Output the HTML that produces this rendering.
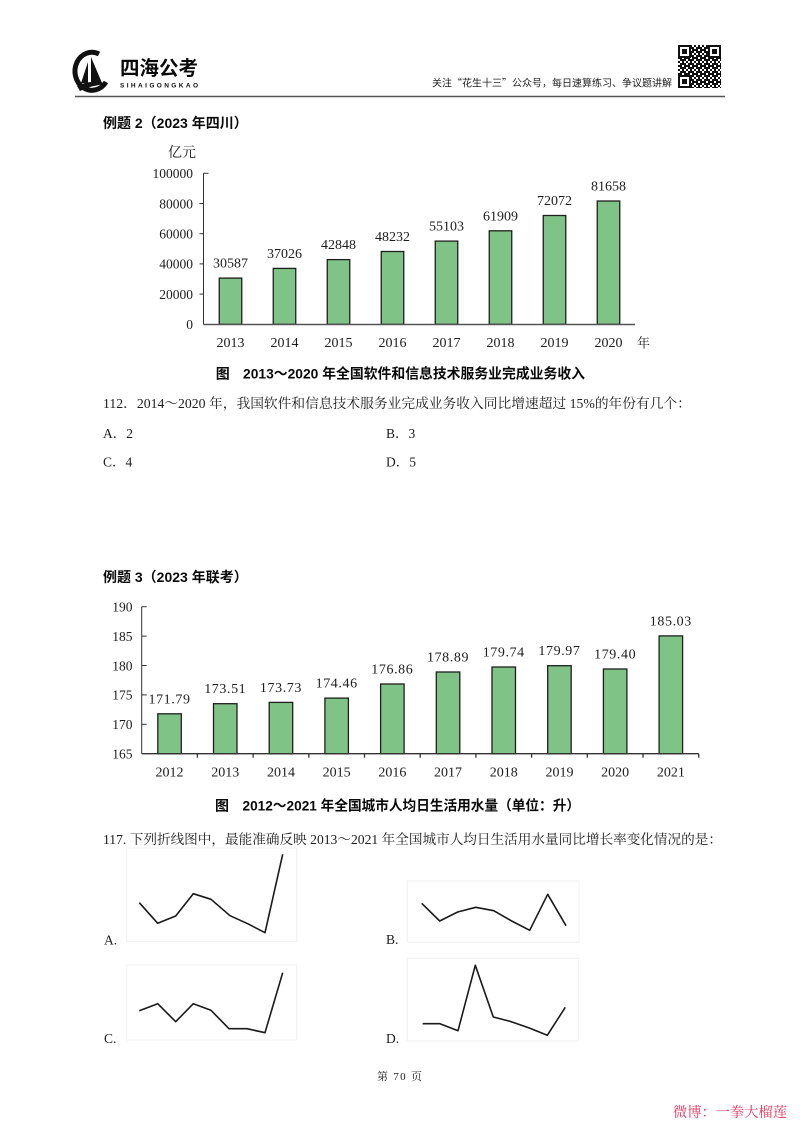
<!DOCTYPE html>
<html><head><meta charset="utf-8">
<style>
html,body{margin:0;padding:0;background:#fff;}
body{width:800px;height:1132px;overflow:hidden;position:relative;}
svg{position:absolute;left:0;top:0;}
.s{font-family:"Liberation Serif","Noto Serif CJK SC",serif;fill:#1c1c1c;}
.h{font-family:"Liberation Sans","Noto Sans CJK SC",sans-serif;font-weight:bold;fill:#0a0a0a;}
.bar{fill:#80c386;stroke:#1e1e1e;stroke-width:1.3;}
.ln{fill:none;stroke:#1a1a1a;stroke-width:1.6;stroke-linejoin:round;}
.box{fill:none;stroke:#f0f0f0;stroke-width:1;}
</style></head>
<body>
<svg width="800" height="1132" viewBox="0 0 800 1132" xmlns="http://www.w3.org/2000/svg">
<defs>
<pattern id="qr" x="678" y="45" width="8" height="8" patternUnits="userSpaceOnUse">
<rect x="0" y="0" width="2" height="2" fill="#111"/><rect x="4" y="0" width="2" height="4" fill="#111"/>
<rect x="2" y="2" width="2" height="2" fill="#111"/><rect x="6" y="2" width="2" height="2" fill="#111"/>
<rect x="0" y="4" width="4" height="2" fill="#111"/><rect x="4" y="6" width="2" height="2" fill="#111"/>
<rect x="6" y="4" width="2" height="4" fill="#111"/><rect x="2" y="6" width="2" height="2" fill="#111"/>
</pattern>
</defs>

<!-- Header logo -->
<g>
<path d="M99,54 A17,19 0 1 0 106,82" fill="none" stroke="#111" stroke-width="5"/>
<path d="M91,57 L91,83 L102,83 Z" fill="#111"/>
<path d="M88,62 L88,83 L81,83 Z" fill="#111"/>
<path d="M77,86 Q91,79 107,84 Q92,85 80,91 Z" fill="#111"/>
</g>
<text class="h" x="120" y="75" font-size="20" font-weight="900" textLength="78" lengthAdjust="spacingAndGlyphs">四海公考</text>
<text class="h" x="120" y="87.5" font-size="6.5" textLength="78" lengthAdjust="spacing">SIHAIGONGKAO</text>
<text x="432" y="86.6" font-size="10" font-family="Noto Sans CJK SC,sans-serif" fill="#222" textLength="240" lengthAdjust="spacingAndGlyphs">关注“花生十三”公众号，每日速算练习、争议题讲解</text>
<!-- QR -->
<rect x="678" y="45" width="43" height="43" fill="url(#qr)"/>
<g fill="#111">
<rect x="678" y="45" width="13" height="13"/><rect x="708" y="45" width="13" height="13"/><rect x="678" y="75" width="13" height="13"/>
</g>
<g fill="#fff">
<rect x="680" y="47" width="9" height="9"/><rect x="710" y="47" width="9" height="9"/><rect x="680" y="77" width="9" height="9"/>
</g>
<g fill="#111">
<rect x="682" y="49" width="5" height="5"/><rect x="712" y="49" width="5" height="5"/><rect x="682" y="79" width="5" height="5"/>
</g>
<line x1="75" y1="96.5" x2="725" y2="96.5" stroke="#555" stroke-width="1.6"/>

<!-- Example 2 -->
<text class="h" x="103" y="128" font-size="14">例题 2（2023 年四川）</text>
<text class="s" x="168" y="157" font-size="14">亿元</text>

<g class="s" font-size="13.5" text-anchor="end">
<text x="193" y="329.1">0</text>
<text x="193" y="298.9">20000</text>
<text x="193" y="268.7">40000</text>
<text x="193" y="238.5">60000</text>
<text x="193" y="208.3">80000</text>
<text x="193" y="178.1">100000</text>
</g>
<g stroke="#333" stroke-width="1">
<line x1="203.5" y1="173.3" x2="203.5" y2="324.5"/>
<line x1="203.5" y1="173.3" x2="208.5" y2="173.3"/>
<line x1="199.5" y1="203.5" x2="203.5" y2="203.5"/>
<line x1="199.5" y1="233.7" x2="203.5" y2="233.7"/>
<line x1="199.5" y1="263.9" x2="203.5" y2="263.9"/>
<line x1="199.5" y1="294.1" x2="203.5" y2="294.1"/>
</g>
<g>
<rect class="bar" x="219.25" y="278.1" width="22.5" height="46.2"/>
<rect class="bar" x="273.25" y="268.4" width="22.5" height="55.9"/>
<rect class="bar" x="327.25" y="259.6" width="22.5" height="64.7"/>
<rect class="bar" x="381.25" y="251.5" width="22.5" height="72.8"/>
<rect class="bar" x="435.25" y="241.1" width="22.5" height="83.2"/>
<rect class="bar" x="489.25" y="230.8" width="22.5" height="93.5"/>
<rect class="bar" x="543.25" y="215.5" width="22.5" height="108.8"/>
<rect class="bar" x="597.25" y="201.0" width="22.5" height="123.3"/>
</g>
<line x1="203.5" y1="324.5" x2="635" y2="324.5" stroke="#555" stroke-width="1.5"/>
<g class="s" font-size="14" text-anchor="middle">
<text x="230.5" y="267.6">30587</text>
<text x="284.5" y="257.9">37026</text>
<text x="338.5" y="249.1">42848</text>
<text x="392.5" y="241.0">48232</text>
<text x="446.5" y="230.6">55103</text>
<text x="500.5" y="220.3">61909</text>
<text x="554.5" y="205.0">72072</text>
<text x="608.5" y="190.5">81658</text>
<text x="230.5" y="347">2013</text>
<text x="284.5" y="347">2014</text>
<text x="338.5" y="347">2015</text>
<text x="392.5" y="347">2016</text>
<text x="446.5" y="347">2017</text>
<text x="500.5" y="347">2018</text>
<text x="554.5" y="347">2019</text>
<text x="608.5" y="347">2020</text>
</g>
<text class="s" x="637" y="347.5" font-size="13">年</text>
<text class="h" x="215.7" y="378.3" font-size="14">图</text>
<text class="h" x="243" y="378.3" font-size="14" textLength="342" lengthAdjust="spacingAndGlyphs">2013～2020 年全国软件和信息技术服务业完成业务收入</text>

<!-- Q112 -->
<text class="s" x="103" y="408.2" font-size="13.5" textLength="588" lengthAdjust="spacingAndGlyphs">112．2014～2020 年，我国软件和信息技术服务业完成业务收入同比增速超过 15%的年份有几个：</text>
<g class="s" font-size="13.5">
<text x="103" y="438.2">A．2</text>
<text x="386" y="438.2">B．3</text>
<text x="103" y="466.6">C．4</text>
<text x="386" y="466.6">D．5</text>
</g>

<!-- Example 3 -->
<text class="h" x="103" y="582" font-size="14">例题 3（2023 年联考）</text>
<g class="s" font-size="13.5" text-anchor="end">
<text x="132.5" y="758.5">165</text>
<text x="132.5" y="729.1">170</text>
<text x="132.5" y="699.7">175</text>
<text x="132.5" y="670.3">180</text>
<text x="132.5" y="640.9">185</text>
<text x="132.5" y="611.5">190</text>
</g>
<g stroke="#333" stroke-width="1">
<line x1="141.7" y1="606.7" x2="141.7" y2="753.7"/>
<line x1="141.7" y1="606.7" x2="146.7" y2="606.7"/>
<line x1="141.7" y1="636.1" x2="146.7" y2="636.1"/>
<line x1="141.7" y1="665.5" x2="146.7" y2="665.5"/>
<line x1="141.7" y1="694.9" x2="146.7" y2="694.9"/>
<line x1="141.7" y1="724.3" x2="146.7" y2="724.3"/>
</g>
<g>
<rect class="bar" x="157.8" y="713.8" width="23.5" height="39.9"/>
<rect class="bar" x="213.5" y="703.7" width="23.5" height="50.0"/>
<rect class="bar" x="269.2" y="702.4" width="23.5" height="51.3"/>
<rect class="bar" x="324.9" y="698.1" width="23.5" height="55.6"/>
<rect class="bar" x="380.6" y="684.0" width="23.5" height="69.7"/>
<rect class="bar" x="436.3" y="672.0" width="23.5" height="81.7"/>
<rect class="bar" x="492.0" y="667.0" width="23.5" height="86.7"/>
<rect class="bar" x="547.7" y="665.7" width="23.5" height="88.0"/>
<rect class="bar" x="603.4" y="669.0" width="23.5" height="84.7"/>
<rect class="bar" x="659.1" y="635.9" width="23.5" height="117.8"/>
</g>
<g stroke="#333" stroke-width="1.3">
<line x1="141.7" y1="753.7" x2="698.7" y2="753.7"/>
<line x1="197.4" y1="753.7" x2="197.4" y2="757.7"/>
<line x1="253.1" y1="753.7" x2="253.1" y2="757.7"/>
<line x1="308.8" y1="753.7" x2="308.8" y2="757.7"/>
<line x1="364.5" y1="753.7" x2="364.5" y2="757.7"/>
<line x1="420.2" y1="753.7" x2="420.2" y2="757.7"/>
<line x1="475.9" y1="753.7" x2="475.9" y2="757.7"/>
<line x1="531.6" y1="753.7" x2="531.6" y2="757.7"/>
<line x1="587.3" y1="753.7" x2="587.3" y2="757.7"/>
<line x1="643.0" y1="753.7" x2="643.0" y2="757.7"/>
<line x1="698.7" y1="753.7" x2="698.7" y2="757.7"/>
</g>
<g class="s" font-size="14" text-anchor="middle" letter-spacing="0.6">
<text x="169.55" y="703.3">171.79</text>
<text x="225.25" y="693.2">173.51</text>
<text x="280.95" y="691.9">173.73</text>
<text x="336.65" y="687.6">174.46</text>
<text x="392.35" y="673.5">176.86</text>
<text x="448.05" y="661.5">178.89</text>
<text x="503.75" y="656.5">179.74</text>
<text x="559.45" y="655.2">179.97</text>
<text x="615.15" y="658.5">179.40</text>
<text x="670.85" y="625.4">185.03</text>
</g>
<g class="s" font-size="14" text-anchor="middle">
<text x="169.55" y="776.7">2012</text>
<text x="225.25" y="776.7">2013</text>
<text x="280.95" y="776.7">2014</text>
<text x="336.65" y="776.7">2015</text>
<text x="392.35" y="776.7">2016</text>
<text x="448.05" y="776.7">2017</text>
<text x="503.75" y="776.7">2018</text>
<text x="559.45" y="776.7">2019</text>
<text x="615.15" y="776.7">2020</text>
<text x="670.85" y="776.7">2021</text>
</g>
<text class="h" x="215" y="810.7" font-size="14">图</text>
<text class="h" x="242.5" y="810.7" font-size="14" textLength="337.5" lengthAdjust="spacingAndGlyphs">2012～2021 年全国城市人均日生活用水量（单位：升）</text>

<!-- Q117 -->
<text class="s" x="103" y="843.9" font-size="13.5" textLength="619" lengthAdjust="spacingAndGlyphs">117. 下列折线图中，最能准确反映 2013～2021 年全国城市人均日生活用水量同比增长率变化情况的是：</text>

<!-- small charts -->
<rect class="box" x="126.7" y="848" width="170" height="93.7"/>
<polyline class="ln" points="139.3,902.7 157.7,923.3 175.7,916 193.3,893.7 211,899.3 230,915.7 247.7,923.7 265,932.7 282.7,854.3"/>
<rect class="box" x="407.3" y="881" width="171.7" height="61.3"/>
<polyline class="ln" points="421.7,903.3 439.7,921 457.7,912 475.7,907.3 493.7,910.7 511.7,921 529.7,930.3 547.7,894.3 566,925.7"/>
<rect class="box" x="126.7" y="965" width="170" height="75"/>
<polyline class="ln" points="139.3,1010.7 157.7,1003.7 175.7,1021.7 193.3,1003.7 211,1010.3 229,1028.7 247,1028.7 265,1032.7 282.7,972.7"/>
<rect class="box" x="407.3" y="958.3" width="171" height="82.7"/>
<polyline class="ln" points="422.7,1023.7 440,1023.7 458,1030.7 475.3,965.3 493.3,1017 511.3,1021.7 529.3,1028 547.3,1035.3 565.3,1007.3"/>
<g class="s" font-size="13.5">
<text x="104" y="944.7">A.</text>
<text x="386" y="944">B.</text>
<text x="104" y="1043">C.</text>
<text x="386" y="1043">D.</text>
</g>

<!-- footer -->
<text class="s" x="377" y="1080" font-size="11" textLength="45" lengthAdjust="spacing">第 70 页</text>
<text x="673" y="1117" font-size="14" font-family="Liberation Serif,Noto Serif CJK SC,serif" fill="#e3345c" textLength="114" lengthAdjust="spacingAndGlyphs">微博：一拳大榴莲</text>
</svg>
</body></html>
